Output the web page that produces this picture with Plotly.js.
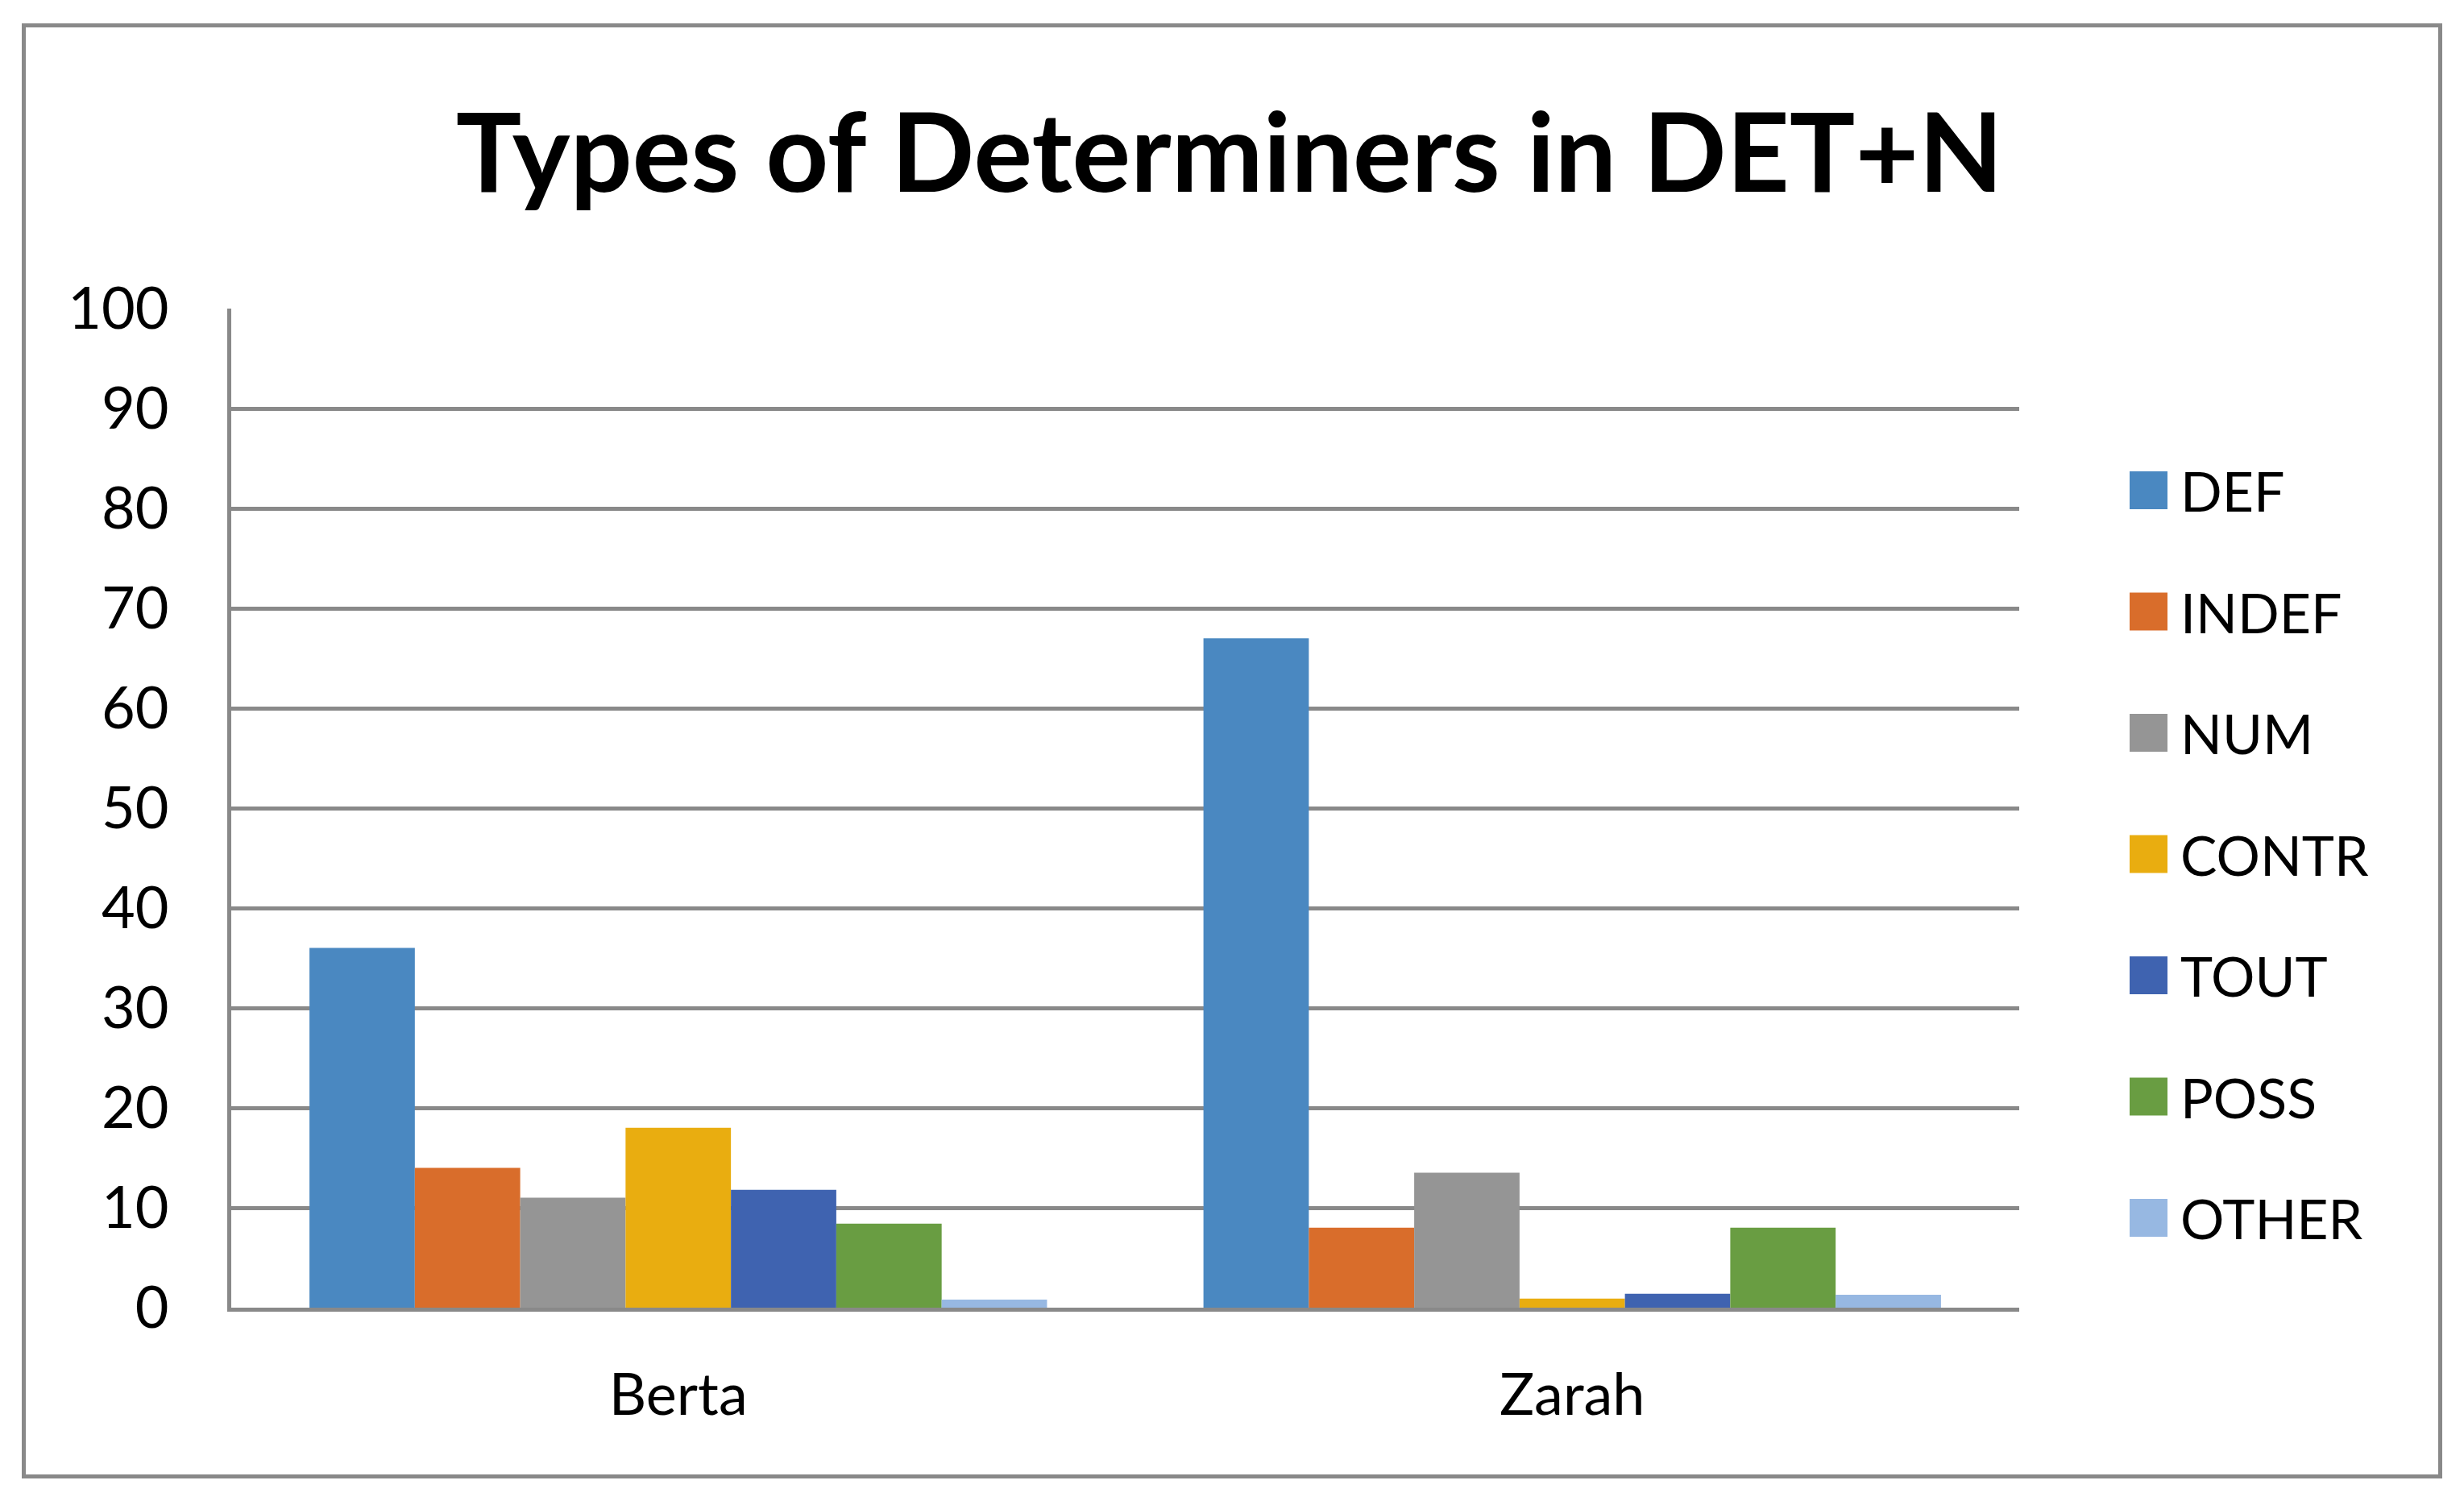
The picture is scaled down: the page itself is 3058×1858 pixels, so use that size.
<!DOCTYPE html>
<html>
<head>
<meta charset="utf-8">
<script src="https://cdn.plot.ly/plotly-3.0.1.min.js"></script>
<style>
html,body{margin:0;padding:0;background:#ffffff;}
#chart{position:absolute;left:0;top:0;width:3058px;height:1858px;}
#frame{position:absolute;left:27px;top:29px;width:3004px;height:1806px;box-sizing:border-box;border:5px solid #898989;pointer-events:none;}
</style>
</head>
<body>
<div id="chart"></div>
<div id="frame"></div>
<script>
// ---- data ----
const categories = ["Berta", "Zarah"];
const seriesNames = ["DEF", "INDEF", "NUM", "CONTR", "TOUT", "POSS", "OTHER"];
const DEF   = [36, 67];
const INDEF = [14, 8];
const NUM   = [11, 13.5];
const CONTR = [18, 0.9];
const TOUT  = [11.8, 1.4];
const POSS  = [8.4, 8];
const OTHER = [0.8, 1.3];
const seriesValues = [DEF, INDEF, NUM, CONTR, TOUT, POSS, OTHER];
const seriesColors = ["#4A88C1", "#D96D2B", "#959595", "#E9AD10", "#3F63B0", "#699D42", "#97B8E2"];
const yTickVals = [0, 10, 20, 30, 40, 50, 60, 70, 80, 90, 100];
const chartTitle = "Types of Determiners in DET+N";

// ---- geometry ----
const W = 3058, H = 1858;
const M = {l: 287, r: W - 2506, t: 383, b: H - 1623};
const plotW = W - M.l - M.r, plotH = H - M.t - M.b;
const FONT = "Lato, 'Open Sans', sans-serif";
const GRID = "#898989";

const traces = seriesNames.map((name, i) => ({
  type: "bar",
  name: name,
  x: categories,
  y: seriesValues[i],
  marker: {color: seriesColors[i], line: {width: 0}},
  showlegend: false,
  hoverinfo: "x+y+name"
}));

// custom legend (big square swatches like the original)
const legX0 = 2643, legSw = 47, legTextX = 2704, legY0 = 608.5, legStep = 150.5;
const px2x = px => (px - M.l) / plotW;
const py2y = py => (H - M.b - py) / plotH;
const shapes = [];
const annotations = [];
seriesNames.forEach((name, i) => {
  const cy = legY0 + i * legStep;
  shapes.push({
    type: "rect", xref: "paper", yref: "paper",
    x0: px2x(legX0), x1: px2x(legX0 + legSw),
    y0: py2y(cy + legSw / 2), y1: py2y(cy - legSw / 2),
    fillcolor: seriesColors[i], line: {width: 0}
  });
  annotations.push({
    xref: "paper", yref: "paper",
    x: px2x(legTextX), y: py2y(cy),
    xanchor: "left", yanchor: "middle",
    text: name, showarrow: false,
    font: {family: FONT, size: 68, color: "#000000"}
  });
});

const layout = {
  width: W, height: H,
  margin: M,
  paper_bgcolor: "#ffffff",
  plot_bgcolor: "#ffffff",
  font: {family: FONT, color: "#000000"},
  title: {
    text: "<b>" + chartTitle + "</b>",
    font: {family: FONT, size: 136, color: "#000000"},
    xref: "container", yref: "container",
    x: 0.499, xanchor: "center",
    y: 1 - 190 / H, yanchor: "middle"
  },
  barmode: "group",
  bargap: 0.175,
  bargroupgap: 0,
  showlegend: false,
  xaxis: {
    type: "category",
    showgrid: false,
    showline: true, linecolor: GRID, linewidth: 5,
    ticks: "",
    tickfont: {family: FONT, size: 72, color: "#000000"},
    ticklabelstandoff: 42,
    zeroline: false
  },
  yaxis: {
    range: [0, 100],
    tickvals: yTickVals,
    showgrid: true, gridcolor: GRID, gridwidth: 5,
    showline: true, linecolor: GRID, linewidth: 5,
    ticks: "",
    tickfont: {family: FONT, size: 72, color: "#000000"},
    ticklabelstandoff: 58,
    zeroline: false,
    fixedrange: true
  },
  shapes: shapes,
  annotations: annotations
};

Plotly.newPlot("chart", traces, layout, {displayModeBar: false, staticPlot: true});
</script>
</body>
</html>
